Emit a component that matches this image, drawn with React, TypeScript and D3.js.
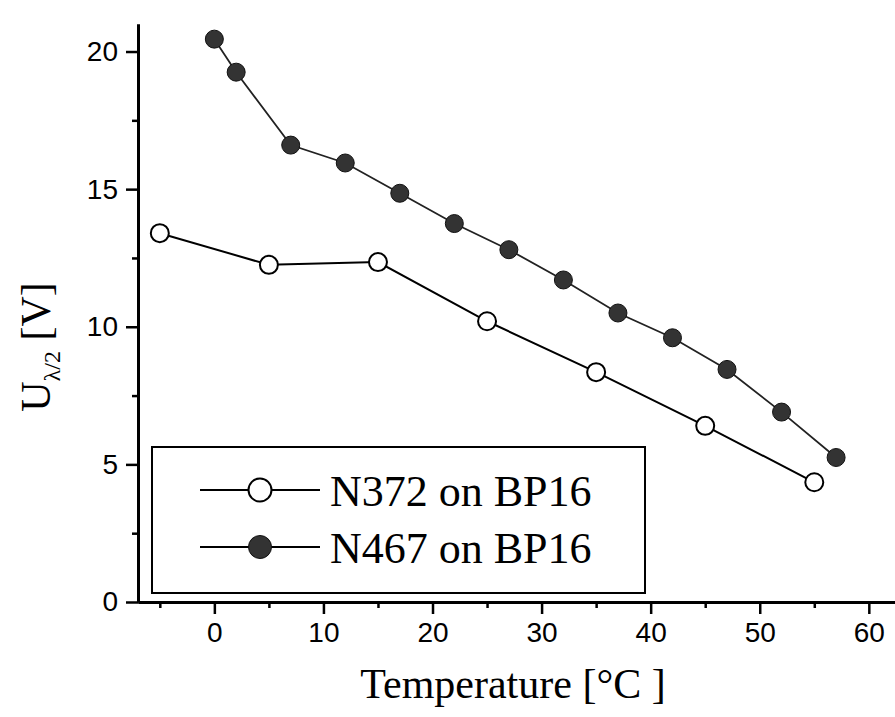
import React, { useEffect, useRef } from 'react';
import * as d3 from 'd3';

// N372 on BP16 (open circles)
const n372Temp = [-5, 5, 15, 25, 35, 45, 55];
const n372Volt = [13.4, 12.25, 12.35, 10.2, 8.35, 6.4, 4.35];

// N467 on BP16 (filled circles)
const n467Temp = [0, 2, 7, 12, 17, 22, 27, 32, 37, 42, 47, 52, 57];
const n467Volt = [20.45, 19.25, 16.6, 15.95, 14.85, 13.75, 12.8, 11.7, 10.5, 9.6, 8.45, 6.9, 5.25];

const xTicks = [0, 10, 20, 30, 40, 50, 60];
const xMinorTicks = [-5, 5, 15, 25, 35, 45, 55];
const yTicks = [0, 5, 10, 15, 20];
const yMinorTicks = [2.5, 7.5, 12.5, 17.5];
const legendLabels = ['N372 on BP16', 'N467 on BP16'];

const WIDTH = 895;
const HEIGHT = 717;
const SANS = "'Liberation Sans', Arial, sans-serif";
const SERIF = "'Liberation Serif', 'Times New Roman', serif";

type Pt = [number, number];

const App = () => {
  const ref = useRef<SVGSVGElement>(null);

  useEffect(() => {
    const svg = d3.select(ref.current);
    svg.selectAll('*').remove();

    const x = d3.scaleLinear().domain([-7, 62.4]).range([138, 895]);
    const y = d3.scaleLinear().domain([0, 21]).range([602, 24]);

    const n372: Pt[] = n372Temp.map((t, i) => [t, n372Volt[i]]);
    const n467: Pt[] = n467Temp.map((t, i) => [t, n467Volt[i]]);

    // axes
    const styleAxis = (g: d3.Selection<SVGGElement, unknown, null, undefined>) => {
      g.select('.domain').attr('stroke', '#000').attr('stroke-width', 3);
      g.selectAll('.tick line').attr('stroke', '#000').attr('stroke-width', 2.5);
      g.selectAll('.tick text')
        .attr('fill', '#000')
        .attr('font-family', SANS)
        .attr('font-size', 28);
    };

    svg.append('g')
      .attr('transform', 'translate(0,0)')
      .call(d3.axisLeft(y).tickValues(yMinorTicks).tickSize(6).tickSizeOuter(0).tickFormat(() => ''))
      .call(styleAxis);
    svg.append('g')
      .call(d3.axisLeft(y).tickValues(yTicks).tickSize(12).tickSizeOuter(0).tickPadding(8).tickFormat(d3.format('d')))
      .call(styleAxis)
      .attr('transform', 'translate(' + x(-7) + ',0)');
    svg.selectAll('g').filter((d, i) => i === 0).attr('transform', 'translate(' + x(-7) + ',0)');

    svg.append('g')
      .attr('transform', 'translate(0,' + y(0) + ')')
      .call(d3.axisBottom(x).tickValues(xMinorTicks).tickSize(6).tickSizeOuter(0).tickFormat(() => ''))
      .call(styleAxis);
    svg.append('g')
      .attr('transform', 'translate(0,' + y(0) + ')')
      .call(d3.axisBottom(x).tickValues(xTicks).tickSize(12).tickSizeOuter(0).tickPadding(8).tickFormat(d3.format('d')))
      .call(styleAxis);

    // lines
    const line = d3.line<Pt>().x(d => x(d[0])).y(d => y(d[1]));
    svg.append('path').datum(n372)
      .attr('d', line).attr('fill', 'none').attr('stroke', '#000').attr('stroke-width', 2);
    svg.append('path').datum(n467)
      .attr('d', line).attr('fill', 'none').attr('stroke', '#222').attr('stroke-width', 1.8);

    // markers
    svg.selectAll('.open').data(n372).enter().append('circle')
      .attr('cx', d => x(d[0])).attr('cy', d => y(d[1])).attr('r', 9)
      .attr('fill', '#fff').attr('stroke', '#000').attr('stroke-width', 2);
    svg.selectAll('.filled').data(n467).enter().append('circle')
      .attr('cx', d => x(d[0])).attr('cy', d => y(d[1])).attr('r', 9)
      .attr('fill', '#333').attr('stroke', '#111').attr('stroke-width', 1);

    // legend
    const legend = svg.append('g');
    legend.append('rect')
      .attr('x', 152).attr('y', 447).attr('width', 493).attr('height', 146)
      .attr('fill', '#fff').attr('stroke', '#000').attr('stroke-width', 2);
    legendLabels.forEach((label, i) => {
      const ly = 490 + i * 57;
      legend.append('line')
        .attr('x1', 200).attr('x2', 320).attr('y1', ly).attr('y2', ly)
        .attr('stroke', '#000').attr('stroke-width', 2);
      legend.append('circle')
        .attr('cx', 260).attr('cy', ly).attr('r', 11.5)
        .attr('fill', i === 0 ? '#fff' : '#333')
        .attr('stroke', i === 0 ? '#000' : '#111')
        .attr('stroke-width', i === 0 ? 2 : 1);
      legend.append('text')
        .attr('x', 330).attr('y', ly + 16)
        .attr('font-family', SERIF).attr('font-size', 44)
        .text(label);
    });

    // axis titles
    svg.append('text')
      .attr('x', 513).attr('y', 698)
      .attr('text-anchor', 'middle')
      .attr('font-family', SERIF).attr('font-size', 42)
      .text('Temperature [°C ]');

    const yl = svg.append('text')
      .attr('transform', 'translate(50,347) rotate(-90)')
      .attr('text-anchor', 'middle')
      .attr('font-family', SERIF).attr('font-size', 42);
    yl.append('tspan').text('U');
    yl.append('tspan').attr('font-size', 24).attr('dy', 10).text('λ/2');
    yl.append('tspan').attr('dy', -10).text(' [V]');
  }, []);

  return (
    <div style={{ position: 'absolute', left: 0, top: 0 }}>
      <svg ref={ref} width={WIDTH} height={HEIGHT} style={{ display: 'block', background: '#fff' }} />
    </div>
  );
};

export default App;
